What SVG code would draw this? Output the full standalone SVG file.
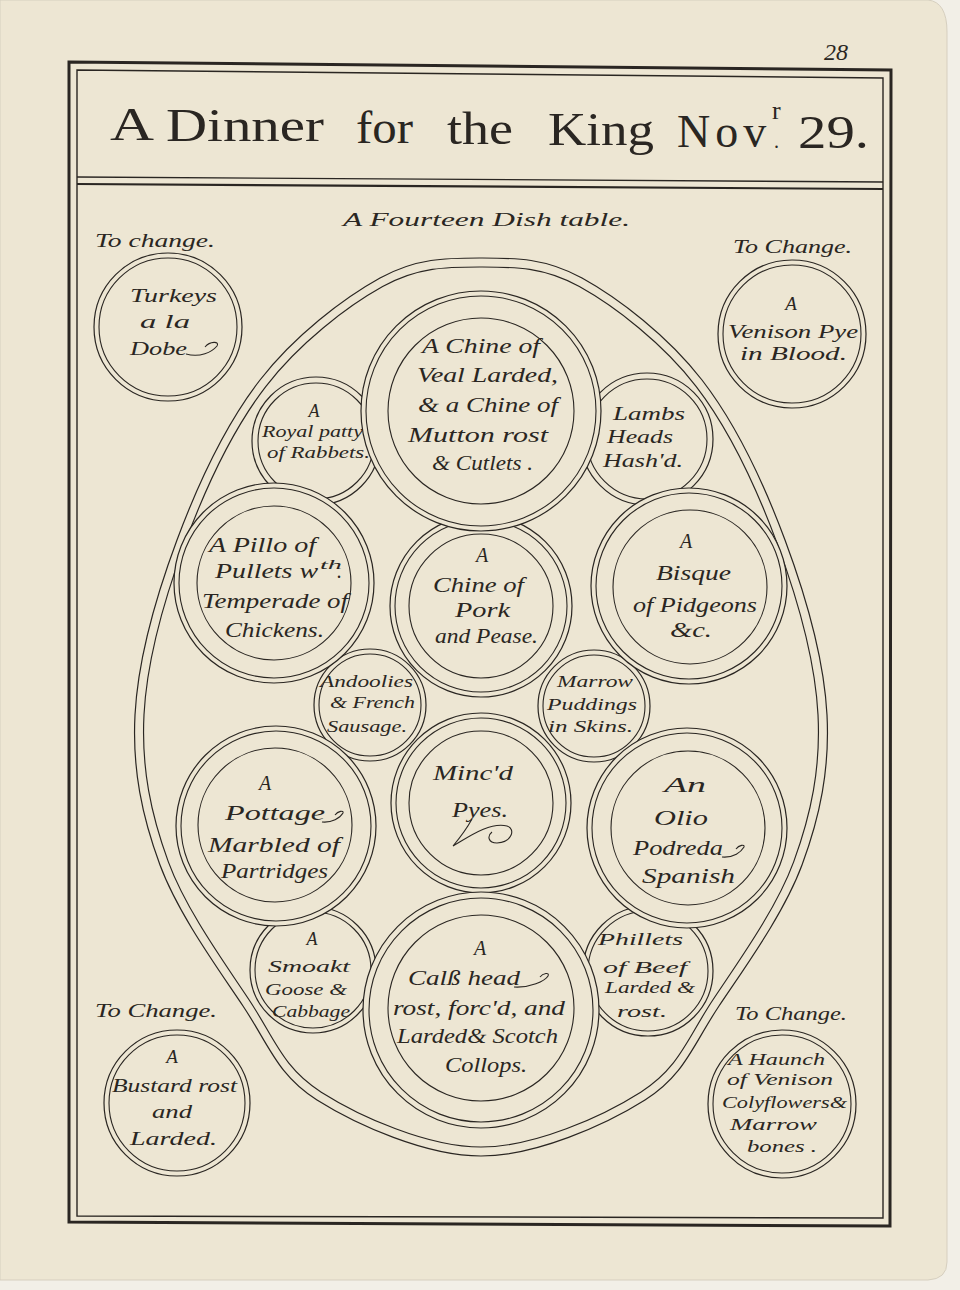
<svg xmlns="http://www.w3.org/2000/svg" xmlns:xlink="http://www.w3.org/1999/xlink" width="960" height="1290" viewBox="0 0 960 1290">
<defs>
<style>
.ink{fill:none;stroke:#2a2622;stroke-width:1.2}
.plate{fill:#ede6d3;stroke:#2a2622;stroke-width:1.2}
.ring{fill:none;stroke:#2a2622;stroke-width:1.1}
.s{font-family:"Liberation Serif","Times New Roman",serif;font-style:italic;fill:#2a2622}
.m{text-anchor:middle}
.ti{font-family:"Liberation Serif","Times New Roman",serif;fill:#2a2622;font-size:46px}
.fl{fill:none;stroke:#2a2622;stroke-width:1.1}
</style>
<path id="ovalPath" d="M481,258 C447.3,258 416.8,257.7 380,278 C343.2,298.3 293.8,336.3 260,380 C226.2,423.7 197.8,484.2 177,540 C156.2,595.8 137.8,660.8 135,715 C132.2,769.2 142,816.5 160,865 C178,913.5 216.8,966.8 243,1006 C269.2,1045.2 277.3,1075 317,1100 C356.7,1125 426.3,1156 481,1156 C535.7,1156 605.3,1125 645,1100 C684.7,1075 692.8,1045.2 719,1006 C745.2,966.8 784,913.5 802,865 C820,816.5 829.8,769.2 827,715 C824.2,660.8 805.8,595.8 785,540 C764.2,484.2 735.8,423.7 702,380 C668.2,336.3 618.8,298.3 582,278 C545.2,257.7 514.7,258 481,258 Z"/>
</defs>
<rect x="0" y="0" width="960" height="1290" fill="#f2efe7"/>
<path d="M0,0 L928,0 Q947,2 947,32 L947,1262 Q947,1279 928,1280 L0,1280 Z" fill="#ede6d3" stroke="#d6cfbf" stroke-width="1"/>

<g id="frame">
<polygon points="69,62 891,70 890,1226 69,1222" fill="none" stroke="#2a2622" stroke-width="3"/>
<polygon points="77,70 883,78 883,1218 77,1216" fill="none" stroke="#2a2622" stroke-width="1.4"/>
<line x1="77" y1="177" x2="883" y2="182" stroke="#2a2622" stroke-width="1.3"/>
<line x1="77" y1="184" x2="883" y2="189" stroke="#2a2622" stroke-width="2.2"/>
<text class="s" x="836" y="60" font-size="24" text-anchor="middle">28</text>
</g>

<g id="title">
<text class="ti" x="110" y="140" textLength="44" lengthAdjust="spacingAndGlyphs">A</text>
<text class="ti" x="166" y="141" textLength="158" lengthAdjust="spacingAndGlyphs">Dinner</text>
<text class="ti" x="356" y="143" textLength="57" lengthAdjust="spacingAndGlyphs">for</text>
<text class="ti" x="447" y="144" textLength="66" lengthAdjust="spacingAndGlyphs">the</text>
<text class="ti" x="548" y="145" textLength="106" lengthAdjust="spacingAndGlyphs">King</text>
<text class="ti"><tspan x="677" y="147" letter-spacing="5">Nov</tspan><tspan x="772" y="119" style="font-size:26px">r</tspan><tspan x="774" y="148" style="font-size:20px">.</tspan></text>
<text class="ti" x="798" y="148" textLength="71" lengthAdjust="spacingAndGlyphs">29.</text>
</g>

<g id="table">
<use xlink:href="#ovalPath" class="ink"/>
<use xlink:href="#ovalPath" class="ink" vector-effect="non-scaling-stroke" transform="translate(481,707) scale(0.974,0.98) translate(-481,-707)"/>
<text class="s" x="343" y="226" font-size="19" textLength="287" lengthAdjust="spacingAndGlyphs">A Fourteen Dish table.</text>
</g>

<g id="connectors"></g>

<g id="turkeys">
<text class="s" x="95" y="247" font-size="18" textLength="120" lengthAdjust="spacingAndGlyphs">To change.</text>
<circle class="plate" cx="168" cy="327" r="74"/><circle class="ring" cx="168" cy="327" r="69"/>
<text class="s" x="130" y="302" font-size="19" textLength="87" lengthAdjust="spacingAndGlyphs">Turkeys</text>
<text class="s" x="140" y="328" font-size="19" textLength="50" lengthAdjust="spacingAndGlyphs">a la</text>
<text class="s" x="130" y="355" font-size="19" textLength="57" lengthAdjust="spacingAndGlyphs">Dobe</text>
<path class="fl" d="M186,354 C200,358 212,352 217,346 C220,341 210,341 205,347"/>
</g>

<g id="venison-pye">
<text class="s" x="733" y="253" font-size="18" textLength="119" lengthAdjust="spacingAndGlyphs">To Change.</text>
<circle class="plate" cx="792" cy="334" r="74"/><circle class="ring" cx="792" cy="334" r="69"/>
<text class="s m" x="791" y="310" font-size="19">A</text>
<text class="s" x="728" y="338" font-size="18" textLength="130" lengthAdjust="spacingAndGlyphs">Venison Pye</text>
<text class="s" x="740" y="360" font-size="18" textLength="107" lengthAdjust="spacingAndGlyphs">in Blood.</text>
</g>

<g id="bustard">
<text class="s" x="95" y="1017" font-size="18" textLength="122" lengthAdjust="spacingAndGlyphs">To Change.</text>
<circle class="plate" cx="177" cy="1103" r="73"/><circle class="ring" cx="177" cy="1103" r="68"/>
<text class="s m" x="172" y="1063" font-size="19">A</text>
<text class="s" x="112" y="1092" font-size="18" textLength="125" lengthAdjust="spacingAndGlyphs">Bustard rost</text>
<text class="s" x="152" y="1118" font-size="18" textLength="40" lengthAdjust="spacingAndGlyphs">and</text>
<text class="s" x="130" y="1145" font-size="18" textLength="87" lengthAdjust="spacingAndGlyphs">Larded.</text>
</g>

<g id="haunch">
<text class="s" x="735" y="1020" font-size="18" textLength="112" lengthAdjust="spacingAndGlyphs">To Change.</text>
<circle class="plate" cx="782" cy="1104" r="74"/><circle class="ring" cx="782" cy="1104" r="69"/>
<text class="s" x="728" y="1065" font-size="17" textLength="97" lengthAdjust="spacingAndGlyphs">A Haunch</text>
<text class="s" x="727" y="1085" font-size="17" textLength="106" lengthAdjust="spacingAndGlyphs">of Venison</text>
<text class="s" x="722" y="1108" font-size="17" textLength="125" lengthAdjust="spacingAndGlyphs">Colyflowers&amp;</text>
<text class="s" x="730" y="1130" font-size="17" textLength="87" lengthAdjust="spacingAndGlyphs">Marrow</text>
<text class="s" x="747" y="1152" font-size="17" textLength="70" lengthAdjust="spacingAndGlyphs">bones .</text>
</g>

<g id="royal-patty">
<circle class="plate" cx="316" cy="441" r="64"/><circle class="ring" cx="316" cy="441" r="58"/>
<text class="s m" x="314" y="417" font-size="18">A</text>
<text class="s" x="262" y="437" font-size="17" textLength="101" lengthAdjust="spacingAndGlyphs">Royal patty</text>
<text class="s" x="267" y="458" font-size="17" textLength="103" lengthAdjust="spacingAndGlyphs">of Rabbets.</text>
</g>

<g id="lambs-heads">
<circle class="plate" cx="647" cy="439" r="66"/><circle class="ring" cx="647" cy="439" r="60"/>
<text class="s" x="613" y="420" font-size="18" textLength="72" lengthAdjust="spacingAndGlyphs">Lambs</text>
<text class="s" x="607" y="443" font-size="18" textLength="66" lengthAdjust="spacingAndGlyphs">Heads</text>
<text class="s" x="603" y="467" font-size="18" textLength="80" lengthAdjust="spacingAndGlyphs">Hash'd.</text>
</g>

<g id="andoolies">
<circle class="plate" cx="370" cy="705" r="56"/><circle class="ring" cx="370" cy="705" r="51"/>
<text class="s" x="320" y="687" font-size="16" textLength="93" lengthAdjust="spacingAndGlyphs">Andoolies</text>
<text class="s" x="330" y="708" font-size="16" textLength="85" lengthAdjust="spacingAndGlyphs">&amp; French</text>
<text class="s" x="327" y="732" font-size="16" textLength="80" lengthAdjust="spacingAndGlyphs">Sausage.</text>
</g>

<g id="marrow-puddings">
<circle class="plate" cx="594" cy="706" r="56"/><circle class="ring" cx="594" cy="706" r="51"/>
<text class="s" x="557" y="687" font-size="16" textLength="76" lengthAdjust="spacingAndGlyphs">Marrow</text>
<text class="s" x="547" y="710" font-size="16" textLength="90" lengthAdjust="spacingAndGlyphs">Puddings</text>
<text class="s" x="548" y="732" font-size="16" textLength="85" lengthAdjust="spacingAndGlyphs">in Skins.</text>
</g>

<g id="smoakt-goose">
<circle class="plate" cx="313" cy="970" r="63"/><circle class="ring" cx="313" cy="970" r="58"/>
<text class="s m" x="312" y="945" font-size="18">A</text>
<text class="s" x="268" y="972" font-size="17" textLength="82" lengthAdjust="spacingAndGlyphs">Smoakt</text>
<text class="s" x="265" y="995" font-size="17" textLength="82" lengthAdjust="spacingAndGlyphs">Goose &amp;</text>
<text class="s" x="272" y="1017" font-size="17" textLength="78" lengthAdjust="spacingAndGlyphs">Cabbage</text>
</g>

<g id="phillets">
<circle class="plate" cx="648" cy="971" r="65"/><circle class="ring" cx="648" cy="971" r="60"/>
<text class="s" x="598" y="945" font-size="17" textLength="85" lengthAdjust="spacingAndGlyphs">Phillets</text>
<text class="s" x="603" y="973" font-size="17" textLength="84" lengthAdjust="spacingAndGlyphs">of Beef</text>
<text class="s" x="605" y="993" font-size="17" textLength="90" lengthAdjust="spacingAndGlyphs">Larded &amp;</text>
<text class="s" x="617" y="1017" font-size="17" textLength="50" lengthAdjust="spacingAndGlyphs">rost.</text>
</g>

<g id="chine-of-pork">
<circle class="plate" cx="481" cy="606" r="91"/><circle class="ring" cx="481" cy="606" r="86"/><circle class="ring" cx="481" cy="606" r="72"/>
<text class="s m" x="482" y="562" font-size="20">A</text>
<text class="s" x="433" y="592" font-size="20" textLength="91" lengthAdjust="spacingAndGlyphs">Chine of</text>
<text class="s" x="455" y="617" font-size="20" textLength="55" lengthAdjust="spacingAndGlyphs">Pork</text>
<text class="s" x="435" y="643" font-size="20" textLength="103" lengthAdjust="spacingAndGlyphs">and Pease.</text>
</g>

<g id="chine-of-veal">
<circle class="plate" cx="481" cy="411" r="120"/><circle class="ring" cx="481" cy="411" r="115"/><circle class="ring" cx="481" cy="411" r="93"/>
<text class="s" x="422" y="353" font-size="20" textLength="118" lengthAdjust="spacingAndGlyphs">A Chine of</text>
<text class="s" x="417" y="382" font-size="20" textLength="141" lengthAdjust="spacingAndGlyphs">Veal Larded,</text>
<text class="s" x="418" y="412" font-size="20" textLength="140" lengthAdjust="spacingAndGlyphs">&amp; a Chine of</text>
<text class="s" x="408" y="442" font-size="20" textLength="140" lengthAdjust="spacingAndGlyphs">Mutton rost</text>
<text class="s" x="432" y="470" font-size="20" textLength="101" lengthAdjust="spacingAndGlyphs">&amp; Cutlets .</text>
</g>

<g id="pillo">
<circle class="plate" cx="274" cy="583" r="100"/><circle class="ring" cx="274" cy="583" r="95"/><circle class="ring" cx="274" cy="583" r="77"/>
<text class="s" x="209" y="552" font-size="20" textLength="107" lengthAdjust="spacingAndGlyphs">A Pillo of</text>
<text class="s" x="215" y="578" font-size="20" textLength="103" lengthAdjust="spacingAndGlyphs">Pullets w</text>
<text class="s" x="320" y="569" font-size="12" textLength="22" lengthAdjust="spacingAndGlyphs">th</text>
<text class="s" x="337" y="578" font-size="20">.</text>
<text class="s" x="202" y="608" font-size="20" textLength="146" lengthAdjust="spacingAndGlyphs">Temperade of</text>
<text class="s" x="225" y="637" font-size="20" textLength="99" lengthAdjust="spacingAndGlyphs">Chickens.</text>
</g>

<g id="bisque">
<circle class="plate" cx="689" cy="586" r="98"/><circle class="ring" cx="689" cy="586" r="93"/><circle class="ring" cx="690" cy="587" r="77"/>
<text class="s m" x="686" y="548" font-size="20">A</text>
<text class="s" x="656" y="580" font-size="20" textLength="75" lengthAdjust="spacingAndGlyphs">Bisque</text>
<text class="s" x="633" y="612" font-size="20" textLength="124" lengthAdjust="spacingAndGlyphs">of Pidgeons</text>
<text class="s" x="670" y="637" font-size="20" textLength="42" lengthAdjust="spacingAndGlyphs">&amp;c.</text>
</g>

<g id="minced-pyes">
<circle class="plate" cx="481" cy="803" r="90"/><circle class="ring" cx="481" cy="803" r="85"/><circle class="ring" cx="481" cy="803" r="72"/>
<text class="s" x="433" y="780" font-size="21" textLength="80" lengthAdjust="spacingAndGlyphs">Minc'd</text>
<text class="s" x="452" y="817" font-size="21" textLength="56" lengthAdjust="spacingAndGlyphs">Pyes.</text>
<path class="fl" d="M472,819 C466,830 458,840 453,846 C470,836 490,822 507,826 C516,829 512,842 497,843 C488,843 487,836 492,832"/>
</g>

<g id="pottage">
<circle class="plate" cx="276" cy="826" r="100"/><circle class="ring" cx="276" cy="826" r="95"/><circle class="ring" cx="275" cy="825" r="77"/>
<text class="s m" x="265" y="790" font-size="20">A</text>
<text class="s" x="225" y="820" font-size="20" textLength="100" lengthAdjust="spacingAndGlyphs">Pottage</text>
<path class="fl" d="M322,822 C332,823 340,818 343,813 C344,810 338,811 335,815"/>
<text class="s" x="208" y="852" font-size="20" textLength="132" lengthAdjust="spacingAndGlyphs">Marbled of</text>
<text class="s" x="221" y="878" font-size="20" textLength="107" lengthAdjust="spacingAndGlyphs">Partridges</text>
</g>

<g id="olio">
<circle class="plate" cx="687" cy="828" r="100"/><circle class="ring" cx="687" cy="828" r="95"/><circle class="ring" cx="688" cy="828" r="77"/>
<text class="s" x="664" y="792" font-size="20" textLength="42" lengthAdjust="spacingAndGlyphs">An</text>
<text class="s" x="654" y="825" font-size="20" textLength="54" lengthAdjust="spacingAndGlyphs">Olio</text>
<text class="s" x="633" y="855" font-size="20" textLength="90" lengthAdjust="spacingAndGlyphs">Podreda</text>
<path class="fl" d="M722,857 C734,858 741,852 744,847 C745,844 739,845 736,849"/>
<text class="s" x="642" y="883" font-size="20" textLength="93" lengthAdjust="spacingAndGlyphs">Spanish</text>
</g>

<g id="calfs-head">
<circle class="plate" cx="481" cy="1010" r="118"/><circle class="ring" cx="481" cy="1010" r="112"/><circle class="ring" cx="481" cy="1008" r="93"/>
<text class="s m" x="480" y="955" font-size="20">A</text>
<text class="s" x="408" y="985" font-size="20" textLength="112" lengthAdjust="spacingAndGlyphs">Calß head</text>
<path class="fl" d="M514,987 C530,988 545,981 548,976 C550,972 543,973 540,977"/>
<text class="s" x="393" y="1015" font-size="20" textLength="172" lengthAdjust="spacingAndGlyphs">rost, forc'd, and</text>
<text class="s" x="397" y="1043" font-size="20" textLength="161" lengthAdjust="spacingAndGlyphs">Larded&amp; Scotch</text>
<text class="s" x="445" y="1072" font-size="20" textLength="82" lengthAdjust="spacingAndGlyphs">Collops.</text>
</g>
</svg>
